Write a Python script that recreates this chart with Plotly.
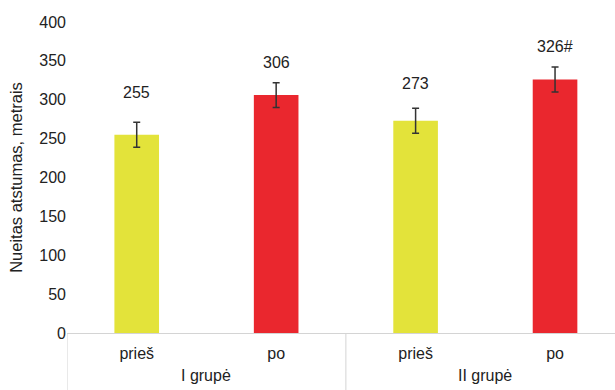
import plotly.graph_objects as go

# Walking distance before/after, two groups
groups = ["I grupė", "II grupė"]
phases = ["prieš", "po", "prieš", "po"]
distance = [255, 306, 273, 326]
errors = [16, 16, 16, 16]
label_suffix = ["", "", "", "#"]

YELLOW = "#e3e33a"
RED = "#ea272e"
bar_colors = [YELLOW, RED, YELLOW, RED]

FONT = "Liberation Sans, Arial, Helvetica, sans-serif"
TXT = "#222222"
AXIS_GREY = "#d4d4d4"

xpos = list(range(len(distance)))

fig = go.Figure()
fig.add_trace(go.Bar(
    x=xpos,
    y=distance,
    width=0.32,
    marker=dict(color=bar_colors, line=dict(width=0)),
    error_y=dict(type="data", array=errors, visible=True,
                 color="#333333", thickness=1.5, width=3.5),
    hoverinfo="skip",
))

# value labels above each bar
label_shift = [42, 33, 37, 33]
for x, v, suf, dy in zip(xpos, distance, label_suffix, label_shift):
    fig.add_annotation(x=x, y=v, xref="x", yref="y", text=f"{v}{suf}",
                       showarrow=False, yanchor="middle", yshift=dy,
                       font=dict(family=FONT, size=16, color=TXT))

# group labels and dividers under the axis
for gi, g in enumerate(groups):
    fig.add_annotation(x=gi * 2 + 0.5, y=0, xref="x", yref="y", text=g,
                       showarrow=False, yanchor="middle", yshift=-42,
                       font=dict(family=FONT, size=16, color=TXT))
for xd in [-0.5, 1.5]:
    fig.add_shape(type="line", xref="x", yref="paper", x0=xd, x1=xd,
                  y0=0, y1=-0.2, line=dict(color=AXIS_GREY, width=1))

fig.update_layout(
    width=615, height=390,
    margin=dict(l=67, r=0, t=22, b=57),
    paper_bgcolor="white", plot_bgcolor="white",
    showlegend=False,
    font=dict(family=FONT, size=16, color=TXT),
    xaxis=dict(
        range=[-0.5, 3.43],
        tickvals=xpos, ticktext=phases,
        showline=True, linecolor=AXIS_GREY, linewidth=1,
        showgrid=False, zeroline=False,
        ticks="outside", ticklen=6, tickcolor="rgba(0,0,0,0)",
        tickfont=dict(family=FONT, size=16, color=TXT),
    ),
    yaxis=dict(
        range=[0, 400], dtick=50,
        showline=False, showgrid=False, zeroline=False,
        ticks="", tickfont=dict(family=FONT, size=16, color=TXT),
        title=dict(text="Nueitas atstumas, metrais", standoff=12,
                   font=dict(family=FONT, size=16.5, color=TXT)),
    ),
)

fig.write_html("out.html")
